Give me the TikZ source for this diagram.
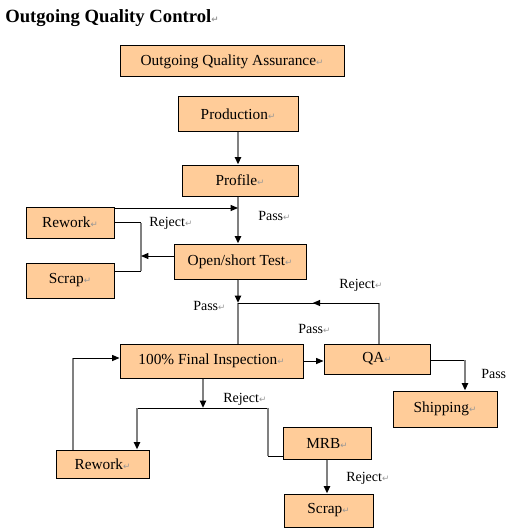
\documentclass[tikz,border=0pt]{standalone}
\usepackage{fontspec}
\setmainfont{Liberation Serif}
\newfontfamily\markfont{DejaVu Sans}
\usetikzlibrary{arrows.meta,positioning,decorations.markings}

\definecolor{peach}{RGB}{255,204,153}
\definecolor{linegray}{RGB}{128,128,128}
\definecolor{markgray}{RGB}{150,150,150}
\newcommand\retmark{{\markfont\color{markgray}\fontsize{6.5}{8}\selectfont ↵}}

\tikzset{
  box/.style={draw, fill=peach, line width=0.75pt, inner sep=0pt,
    font=\fontsize{11.5}{13}\selectfont},
  sz/.style 2 args={minimum width=#1*0.75pt, minimum height=#2*0.75pt},
  lbl/.style={anchor=base west, inner sep=0pt, font=\fontsize{10.5}{12}\selectfont},
  vl/.style={draw=linegray, line width=1.5pt},
  hl/.style={draw=black, line width=0.75pt},
  arr/.style={-{Triangle[length=5.5pt,width=4.5pt,color=black]}},
}

\begin{document}
\begin{tikzpicture}[x=0.75pt, y=-0.75pt]
\useasboundingbox (0,0) rectangle (508,531);

% title
\node[anchor=base west, inner sep=0pt, font=\fontsize{14}{16}\selectfont\bfseries]
  (title) at (5,23) {Outgoing Quality Control\retmark};

% boxes
\node[box, sz={224}{31}] (oqa)  at (232,61.5)  {Outgoing Quality Assurance\retmark};
\node[box, sz={120}{35}] (prod) at (238,114.5) {Production\retmark};
\node[box, sz={116}{31}] (prof) at (240,180.5) {Profile\retmark};
\node[box, sz={88}{31}]  (rw1)  at (70,222.5)  {Rework\retmark};
\node[box, sz={88}{35}]  (sc1)  at (70,280.5)  {Scrap\retmark};
\node[box, sz={132}{35}] (ost)  at (240,261.5) {Open/short Test\retmark};
\node[box, sz={183}{34}] (fi)   at (211.5,361) {100\% Final Inspection\retmark};
\node[box, sz={106}{30}] (qa)   at (377,359)   {QA\retmark};
\node[box, sz={104}{36}] (ship) at (445,409)   {Shipping\retmark};
\node[box, sz={93}{28}]  (rw2)  at (102.5,464) {Rework\retmark};
\node[box, sz={88}{32}]  (mrb)  at (327,443)   {MRB\retmark};
\node[box, sz={89}{33}]  (sc2)  at (328.5,510.5) {Scrap\retmark};

% junctions
\coordinate (j1) at (238,208);
\coordinate (j2) at (141,256);
\coordinate (j2b) at (141,271);
\coordinate (j3) at (238,303);
\coordinate (j7) at (379,303);
\coordinate (j4) at (465,360);
\coordinate (j5) at (203,408);
\coordinate (j8) at (137,408);
\coordinate (j9) at (268,408);
\coordinate (j10) at (268,456);
\coordinate (j6) at (73,358);

% upper flow
\draw[vl,arr] (prod.south -| j1) -- (prof.north -| j1);
\draw[vl,arr] (prof.south -| j1) -- (ost.north -| j1);
\draw[hl,arr] (rw1.north east |- j1) -- (j1);
\draw[hl] (rw1.east) -- (rw1.east -| j2);
\draw[vl] (rw1.east -| j2) -- (j2b);
\draw[hl] (j2b) -- (j2b -| sc1.east);
\draw[hl,arr] (ost.west |- j2) -- (j2);

% open/short to final inspection
\draw[vl,arr] (ost.south -| j3) -- (j3);
\draw[vl] (j3) -- (fi.north -| j3);
\draw[vl] (qa.north -| j7) -- (j7);
\draw[hl, postaction={decorate}, decoration={markings,
  mark=at position 0.47 with {\arrow{Triangle[length=5.5pt,width=4.5pt]}}}] (j7) -- (j3);

% QA and shipping
\draw[hl,arr] (fi.east) -- (qa.west |- fi.east);
\draw[hl] (qa.east |- j4) -- (j4);
\draw[vl,arr] (j4) -- (ship.north -| j4);

% reject from final inspection
\draw[vl,arr] (fi.south -| j5) -- (j5);
\draw[hl] (j8) -- (j9);
\draw[vl,arr] (j8) -- (rw2.north -| j8);
\draw[vl] (j9) -- (j10);
\draw[hl] (j10) -- (mrb.west |- j10);
\draw[vl] (rw2.north -| j6) -- (j6);
\draw[hl,arr] (j6) -- (fi.west |- j6);
\draw[vl,arr] (mrb.south) -- (mrb.south |- sc2.north);

% labels
\node[lbl] (l1) at (149,226) {Reject\retmark};
\node[lbl] (l2) at (258,220) {Pass\retmark};
\node[lbl] (l3) at (193,310) {Pass\retmark};
\node[lbl] (l4) at (339,288) {Reject\retmark};
\node[lbl] (l5) at (298,333) {Pass\retmark};
\node[lbl] (l6) at (223,402) {Reject\retmark};
\node[lbl] (l7) at (346,481) {Reject\retmark};
\node[lbl] (l8) at (481,378) {Pass};
\end{tikzpicture}
\end{document}
